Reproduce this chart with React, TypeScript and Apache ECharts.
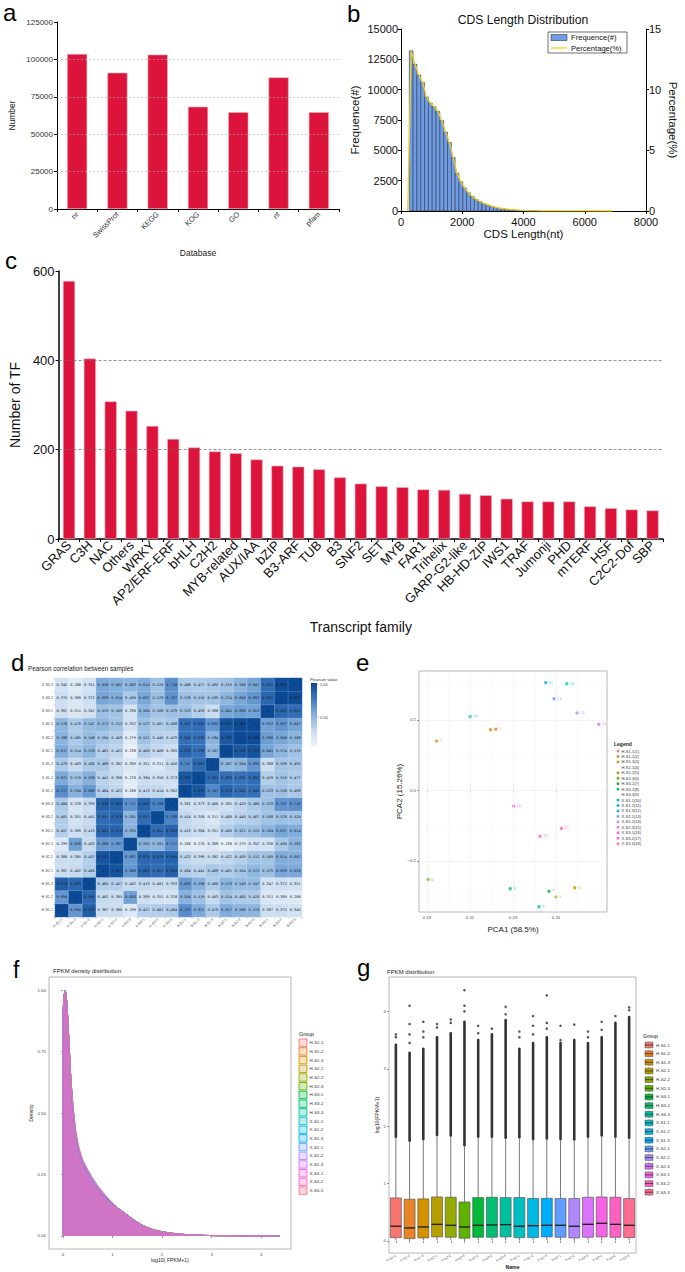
import React, { useEffect, useRef } from "react";
import * as echarts from "echarts";

const FONT = '"Liberation Sans", Arial, Helvetica, sans-serif';

// ---------- Panel a : annotation databases ----------
const dbNames = ["nr", "SwissProt", "KEGG", "KOG", "GO", "nt", "pfam"];
const dbCounts = [103600, 91100, 103200, 68400, 64700, 88000, 64700];
const dbGridValues = [25000, 50000, 75000, 100000];

// ---------- Panel b : CDS length distribution ----------
const cdsBinEdges = [270, 395, 520, 645, 770, 895, 1020, 1145, 1270, 1395, 1520, 1645, 1770, 1895, 2020, 2145, 2270, 2395, 2520, 2645, 2770, 2895, 3020, 3145, 3270, 3395, 3520, 3645, 3770, 3895, 4020, 4145, 4270, 4395, 4520];
const cdsCounts = [13200, 12100, 11200, 10600, 9400, 8900, 8600, 8200, 7450, 6500, 5650, 4400, 3100, 2400, 1900, 1500, 1200, 950, 780, 630, 500, 400, 310, 240, 190, 150, 115, 90, 70, 55, 40, 30, 22, 16];
const cdsPctX = [220, 332, 457, 582, 707, 832, 957, 1082, 1207, 1332, 1457, 1582, 1707, 1832, 1957, 2082, 2207, 2332, 2457, 2582, 2707, 2832, 2957, 3082, 3207, 3332, 3457, 3582, 3707, 3832, 3957, 4200, 4600, 5200, 6000, 6900];
const cdsPct = [0, 13.2, 12.1, 11.2, 10.6, 9.4, 8.9, 8.6, 8.2, 7.45, 6.5, 5.65, 4.4, 3.1, 2.4, 1.9, 1.5, 1.2, 0.95, 0.78, 0.63, 0.5, 0.4, 0.31, 0.24, 0.19, 0.15, 0.115, 0.09, 0.07, 0.055, 0.03, 0.015, 0.008, 0.004, 0];

// ---------- Panel c : transcription factor families ----------
const tfFamilies = ["GRAS", "C3H", "NAC", "Others", "WRKY", "AP2/ERF-ERF", "bHLH", "C2H2", "MYB-related", "AUX/IAA", "bZIP", "B3-ARF", "TUB", "B3", "SNF2", "SET", "MYB", "FAR1", "Trihelix", "GARP-G2-like", "HB-HD-ZIP", "IWS1", "TRAF", "Jumonji", "PHD", "mTERF", "HSF", "C2C2-Dof", "SBP"];
const tfCounts = [578, 404, 308, 287, 253, 224, 205, 196, 192, 178, 164, 162, 156, 138, 124, 118, 116, 111, 110, 101, 98, 90, 84, 84, 84, 73, 69, 66, 64];
const tfGridValues = [200, 400];

// ---------- Samples ----------
const samples = ["H-S1-1", "H-S1-2", "H-S1-3", "H-S2-1", "H-S2-2", "H-S2-3", "H-S3-1", "H-S3-2", "H-S3-3", "X-S1-1", "X-S1-2", "X-S1-3", "X-S2-1", "X-S2-2", "X-S2-3", "X-S3-1", "X-S3-2", "X-S3-3"];
const groupColors = ["#F8766D", "#E88526", "#D39200", "#B79F00", "#93AA00", "#5EB300", "#00BA38", "#00BF74", "#00C19F", "#00BFC4", "#00B9E3", "#00ADFA", "#619CFF", "#AE87FF", "#DB72FB", "#F564E3", "#FF61C3", "#FF6C91"];

// ---------- Panel d : Pearson correlation (row = sample, same order as samples) ----------
const corrHS11 = [1, 0.694, 0.913, 0.387, 0.380, 0.299, 0.457, 0.461, 0.484, 0.727, 0.621, 0.479, 0.617, 0.586, 0.576, 0.367, 0.375, 0.345];
const corrHS12 = [0.694, 1, 0.869, 0.402, 0.385, 0.656, 0.369, 0.351, 0.328, 0.594, 0.519, 0.403, 0.514, 0.485, 0.476, 0.311, 0.309, 0.288];
const corrHS13 = [0.913, 0.869, 1, 0.465, 0.457, 0.402, 0.419, 0.401, 0.393, 0.683, 0.598, 0.480, 0.578, 0.548, 0.547, 0.347, 0.372, 0.351];
const corrHS21 = [0.387, 0.402, 0.465, 1, 0.957, 0.688, 0.881, 0.851, 0.898, 0.464, 0.441, 0.489, 0.461, 0.504, 0.572, 0.529, 0.639, 0.628];
const corrHS22 = [0.380, 0.385, 0.457, 0.957, 1, 0.687, 0.879, 0.878, 0.895, 0.422, 0.396, 0.382, 0.422, 0.459, 0.512, 0.509, 0.614, 0.602];
const corrHS23 = [0.299, 0.656, 0.402, 0.688, 0.687, 1, 0.595, 0.581, 0.717, 0.268, 0.276, 0.309, 0.238, 0.279, 0.352, 0.336, 0.490, 0.583];
const corrHS31 = [0.457, 0.369, 0.419, 0.881, 0.879, 0.595, 1, 0.851, 0.882, 0.413, 0.384, 0.351, 0.460, 0.521, 0.522, 0.584, 0.637, 0.614];
const corrHS32 = [0.461, 0.351, 0.401, 0.851, 0.878, 0.581, 0.851, 1, 0.768, 0.414, 0.358, 0.311, 0.408, 0.440, 0.467, 0.508, 0.528, 0.520];
const corrHS33 = [0.484, 0.328, 0.393, 0.898, 0.895, 0.717, 0.882, 0.768, 1, 0.362, 0.373, 0.400, 0.365, 0.429, 0.488, 0.529, 0.707, 0.718];
const corrXS11 = [0.727, 0.594, 0.683, 0.464, 0.422, 0.268, 0.413, 0.414, 0.362, 1, 0.939, 0.747, 0.878, 0.845, 0.842, 0.523, 0.528, 0.488];
const corrXS12 = [0.621, 0.519, 0.598, 0.441, 0.396, 0.276, 0.384, 0.358, 0.373, 0.939, 1, 0.867, 0.838, 0.830, 0.852, 0.459, 0.510, 0.477];
const corrXS13 = [0.479, 0.403, 0.480, 0.489, 0.382, 0.309, 0.351, 0.311, 0.400, 0.747, 0.867, 1, 0.567, 0.584, 0.695, 0.388, 0.509, 0.495];
const corrXS21 = [0.617, 0.514, 0.578, 0.461, 0.422, 0.238, 0.460, 0.408, 0.365, 0.878, 0.838, 0.567, 1, 0.933, 0.953, 0.641, 0.574, 0.519];
const corrXS22 = [0.586, 0.485, 0.548, 0.504, 0.459, 0.279, 0.521, 0.440, 0.429, 0.845, 0.830, 0.584, 0.933, 1, 0.989, 0.666, 0.640, 0.588];
const corrXS23 = [0.576, 0.476, 0.547, 0.572, 0.512, 0.352, 0.522, 0.467, 0.488, 0.842, 0.852, 0.695, 0.953, 0.989, 1, 0.653, 0.697, 0.647];
const corrXS31 = [0.367, 0.311, 0.347, 0.529, 0.509, 0.336, 0.584, 0.508, 0.529, 0.523, 0.459, 0.388, 0.641, 0.666, 0.653, 1, 0.881, 0.851];
const corrXS32 = [0.375, 0.309, 0.372, 0.639, 0.614, 0.490, 0.637, 0.528, 0.707, 0.528, 0.510, 0.509, 0.574, 0.640, 0.697, 0.881, 1, 0.983];
const corrXS33 = [0.345, 0.288, 0.351, 0.628, 0.602, 0.583, 0.614, 0.520, 0.718, 0.488, 0.477, 0.495, 0.519, 0.588, 0.647, 0.851, 0.983, 1];
const corrRows = [corrHS11, corrHS12, corrHS13, corrHS21, corrHS22, corrHS23, corrHS31, corrHS32, corrHS33, corrXS11, corrXS12, corrXS13, corrXS21, corrXS22, corrXS23, corrXS31, corrXS32, corrXS33];

// ---------- Panel e : PCA ----------
const pca1 = [0.2221, 0.1945, 0.2196, 0.2587, 0.2500, 0.1905, 0.2467, 0.2287, 0.2421, 0.2550, 0.2452, 0.2101, 0.2491, 0.2598, 0.2699, 0.2303, 0.2525, 0.2426];
const pca2 = [0.174, 0.140, 0.172, -0.276, -0.302, -0.253, -0.286, -0.279, -0.330, 0.303, 0.306, 0.210, 0.260, 0.220, 0.188, -0.045, -0.108, -0.130];
const pcaXTicks = [0.19, 0.21, 0.23, 0.25];
const pcaXMinor = [0.20, 0.22, 0.24, 0.26];
const pcaYTicks = [-0.2, 0, 0.2];
const pcaYMinor = [-0.3, -0.1, 0.1, 0.3];

// ---------- Panel f : FPKM density ----------
const densX = [0, 0, 0.02, 0.04, 0.06, 0.08, 0.10, 0.13, 0.16, 0.20, 0.25, 0.30, 0.35, 0.40, 0.50, 0.60, 0.70, 0.80, 0.90, 1.00, 1.10, 1.20, 1.30, 1.40, 1.50, 1.60, 1.70, 1.80, 2.00, 2.20, 2.40, 2.60, 3.00, 3.50, 4.00, 4.37];
const densYMain = [0, 0.90, 0.97, 1.00, 0.99, 0.95, 0.88, 0.76, 0.64, 0.53, 0.43, 0.37, 0.33, 0.30, 0.26, 0.225, 0.195, 0.172, 0.15, 0.13, 0.115, 0.10, 0.085, 0.07, 0.056, 0.045, 0.035, 0.027, 0.017, 0.011, 0.007, 0.004, 0.0015, 0.0005, 0.0002, 0];
const densYXS3 = [0, 0.88, 0.96, 0.99, 0.98, 0.94, 0.87, 0.75, 0.64, 0.54, 0.44, 0.38, 0.34, 0.31, 0.27, 0.235, 0.205, 0.18, 0.155, 0.135, 0.115, 0.098, 0.082, 0.067, 0.054, 0.043, 0.034, 0.026, 0.016, 0.010, 0.006, 0.004, 0.0015, 0.0005, 0.0002, 0];
const densXTicks = [0, 1, 2, 3, 4];
const densYTicks = [0, 0.25, 0.5, 0.75, 1];

// ---------- Panel g : FPKM box plots ----------
const boxLow = [0.01, 0.0, 0.01, 0.01, 0.01, 0.0, 0.01, 0.01, 0.01, 0.01, 0.01, 0.01, 0.01, 0.0, 0.01, 0.01, 0.01, 0.01];
const boxQ1 = [0.058, 0.040, 0.052, 0.070, 0.064, 0.047, 0.064, 0.064, 0.070, 0.058, 0.058, 0.070, 0.064, 0.052, 0.064, 0.070, 0.064, 0.058];
const boxMed = [0.256, 0.227, 0.244, 0.290, 0.273, 0.244, 0.273, 0.279, 0.285, 0.256, 0.267, 0.273, 0.273, 0.256, 0.290, 0.308, 0.290, 0.273];
const boxQ3 = [0.750, 0.727, 0.733, 0.767, 0.762, 0.680, 0.756, 0.762, 0.756, 0.756, 0.740, 0.744, 0.740, 0.740, 0.762, 0.767, 0.762, 0.740];
const boxHigh = [1.80, 1.73, 1.76, 1.83, 1.82, 1.65, 1.80, 1.80, 1.78, 1.79, 1.76, 1.77, 1.76, 1.75, 1.80, 1.82, 1.80, 1.78];
const outlierDenseTop = [3.42, 3.28, 3.35, 3.55, 3.62, 3.82, 3.50, 3.60, 3.85, 3.35, 3.45, 3.55, 3.45, 3.50, 3.45, 3.55, 3.80, 3.90];
const outlierSparse = [[3.55, 3.60], [3.45, 3.60, 3.78, 4.10], [3.55, 3.65, 3.82], [3.72, 3.78], [3.80, 3.86], [4.00, 4.10, 4.37], [3.62, 3.75], [3.70], [3.95, 4.08], [3.55, 3.65], [3.60, 3.75, 3.92], [3.70, 3.80, 4.28], [3.50, 3.75], [3.77], [3.55, 3.65], [3.68, 3.82], [3.92], [4.02, 4.07]];
const boxYTicks = [0, 1, 2, 3, 4];

// ---------- helpers ----------
function txt(x: number, y: number, text: string, fontSize: number, extra: any = {}) {
  const align = extra.align || "left";
  const vAlign = extra.verticalAlign || "middle";
  return {
    type: "text",
    x,
    y,
    rotation: extra.rotation || 0,
    silent: true,
    style: {
      text,
      fontSize,
      fontFamily: FONT,
      fontWeight: extra.fontWeight || "normal",
      fill: extra.fill || "#000",
      align,
      textAlign: align,
      verticalAlign: vAlign,
      textVerticalAlign: vAlign,
    },
  };
}

function gridLineSeries(xi: number, yi: number, data: any[], lineStyle: any) {
  return {
    type: "line",
    xAxisIndex: xi,
    yAxisIndex: yi,
    data: [],
    silent: true,
    z: 1,
    markLine: {
      silent: true,
      symbol: "none",
      animation: false,
      label: { show: false },
      emphasis: { disabled: true },
      lineStyle,
      data,
    },
  };
}

function buildOption() {
  const series: any[] = [];

  // ---- a
  series.push(gridLineSeries(0, 0, dbGridValues.map((v) => ({ yAxis: v })), { type: [2, 2], color: "#b5b5b5", width: 0.6 }));
  series.push({
    type: "bar",
    xAxisIndex: 0,
    yAxisIndex: 0,
    data: dbCounts,
    barWidth: "50%",
    z: 2,
    itemStyle: { color: "#DC143C", borderColor: "#f3b0bd", borderWidth: 0.6 },
  });

  // ---- b
  series.push({
    type: "custom",
    xAxisIndex: 1,
    yAxisIndex: 1,
    data: cdsCounts.map((c, i) => [cdsBinEdges[i], cdsBinEdges[i + 1], c]),
    encode: { x: [0, 1], y: 2 },
    renderItem: (params: any, api: any) => {
      const p0 = api.coord([api.value(0), api.value(2)]);
      const p1 = api.coord([api.value(1), 0]);
      return {
        type: "rect",
        shape: { x: p0[0], y: p0[1], width: p1[0] - p0[0], height: p1[1] - p0[1] },
        style: { fill: "#6f9ce6", stroke: "#1c1c1c", lineWidth: 0.45 },
      };
    },
  });
  series.push({
    type: "line",
    xAxisIndex: 1,
    yAxisIndex: 2,
    data: cdsPctX.map((x, i) => [x, cdsPct[i]]),
    showSymbol: false,
    symbol: "none",
    z: 5,
    lineStyle: { color: "#f2cf1c", width: 1.3 },
  });

  // ---- c
  series.push(gridLineSeries(2, 3, tfGridValues.map((v) => ({ yAxis: v })), { type: [3, 2], color: "#666", width: 0.7 }));
  series.push({
    type: "bar",
    xAxisIndex: 2,
    yAxisIndex: 3,
    data: tfCounts,
    barWidth: "58%",
    z: 2,
    itemStyle: { color: "#DC143C", borderColor: "#f3b0bd", borderWidth: 0.6 },
  });

  // ---- d
  const heatData: any[] = [];
  corrRows.forEach((row, r) => row.forEach((v, c) => heatData.push([c, r, v])));
  const heatIndex = series.length;
  series.push({
    type: "heatmap",
    xAxisIndex: 3,
    yAxisIndex: 4,
    data: heatData,
    itemStyle: { borderColor: "rgba(255,255,255,0.35)", borderWidth: 0.4 },
    label: {
      show: true,
      fontSize: 3.6,
      fontFamily: '"DejaVu Sans Mono", monospace',
      color: "#1e1e1e",
      formatter: (p: any) => (p.value[2] === 1 ? "1" : p.value[2].toFixed(3)),
    },
  });

  // ---- e
  series.push(
    gridLineSeries(
      4,
      5,
      [...pcaXMinor.map((v) => ({ xAxis: v, lineStyle: { width: 0.3 } })), ...pcaYMinor.map((v) => ({ yAxis: v, lineStyle: { width: 0.3 } })), ...pcaXTicks.map((v) => ({ xAxis: v })), ...pcaYTicks.map((v) => ({ yAxis: v }))],
      { type: "solid", color: "#ececec", width: 0.6 }
    )
  );
  series.push({
    type: "scatter",
    xAxisIndex: 4,
    yAxisIndex: 5,
    symbolSize: 3.4,
    z: 3,
    data: pca1.map((x, i) => ({
      value: [x, pca2[i]],
      itemStyle: { color: groupColors[i] },
      label: { color: groupColors[i] },
    })),
    label: {
      show: true,
      position: "right",
      distance: 1.5,
      fontSize: 3.8,
      fontFamily: FONT,
      formatter: (p: any) => String(p.dataIndex + 1),
    },
  });

  // ---- f
  samples.forEach((s, i) => {
    const ys = i >= 15 ? densYXS3 : densYMain;
    series.push({
      type: "line",
      name: s,
      xAxisIndex: 5,
      yAxisIndex: 6,
      data: densX.map((x, k) => [x, ys[k]]),
      showSymbol: false,
      symbol: "none",
      z: 2,
      lineStyle: { color: groupColors[i], width: 0.5 },
      areaStyle: { color: groupColors[i], opacity: 0.3 },
    });
  });

  // ---- g
  series.push({
    type: "custom",
    xAxisIndex: 6,
    yAxisIndex: 7,
    z: 3,
    data: samples.map((s, i) => [i, outlierDenseTop[i], boxHigh[i]]),
    encode: { x: 0, y: [1, 2] },
    renderItem: (params: any, api: any) => {
      const a = api.coord([api.value(0), api.value(2)]);
      const b = api.coord([api.value(0), api.value(1)]);
      return {
        type: "line",
        shape: { x1: a[0], y1: a[1] - 1, x2: b[0], y2: b[1] },
        style: { stroke: "#333", lineWidth: 2.6, lineCap: "round" },
      };
    },
  });
  series.push({
    type: "scatter",
    xAxisIndex: 6,
    yAxisIndex: 7,
    symbolSize: 2.6,
    z: 3,
    itemStyle: { color: "#333" },
    data: outlierSparse.flatMap((arr, i) => arr.map((v) => [i, v])),
  });
  series.push({
    type: "custom",
    xAxisIndex: 6,
    yAxisIndex: 7,
    z: 4,
    data: samples.map((s, i) => [i, boxLow[i], boxQ1[i], boxMed[i], boxQ3[i], boxHigh[i]]),
    encode: { x: 0, y: [1, 2, 3, 4, 5] },
    renderItem: (params: any, api: any) => {
      const i = api.value(0);
      const color = groupColors[params.dataIndex];
      const w = api.size([1, 0])[0] * 0.8;
      const pLow = api.coord([i, api.value(1)]);
      const pQ1 = api.coord([i, api.value(2)]);
      const pMed = api.coord([i, api.value(3)]);
      const pQ3 = api.coord([i, api.value(4)]);
      const pHigh = api.coord([i, api.value(5)]);
      const x = pMed[0];
      return {
        type: "group",
        children: [
          { type: "line", shape: { x1: x, y1: pQ3[1], x2: x, y2: pHigh[1] }, style: { stroke: "#555", lineWidth: 0.8 } },
          { type: "line", shape: { x1: x, y1: pQ1[1], x2: x, y2: pLow[1] }, style: { stroke: "#555", lineWidth: 0.8 } },
          { type: "rect", shape: { x: x - w / 2, y: pQ3[1], width: w, height: pQ1[1] - pQ3[1] }, style: { fill: color, stroke: "#4a4a4a", lineWidth: 0.6 } },
          { type: "line", shape: { x1: x - w / 2, y1: pMed[1], x2: x + w / 2, y2: pMed[1] }, style: { stroke: "#1a1a1a", lineWidth: 1.3 } },
        ],
      };
    },
  });

  // ---------- axes ----------
  const blackAxis = { show: true, lineStyle: { color: "#000", width: 1 } };
  const ggTick = { show: true, length: 2, lineStyle: { color: "#333", width: 0.5 } };
  const ggLabel = { fontSize: 4.4, color: "#4d4d4d", fontFamily: FONT, margin: 3 };
  const plain = (v: number) => String(v);

  const xAxis: any[] = [
    // a
    {
      gridIndex: 0,
      type: "category",
      data: dbNames,
      axisLine: blackAxis,
      axisTick: { show: true, length: 3, lineStyle: { color: "#000" } },
      axisLabel: { rotate: 45, fontSize: 7.5, color: "#333", interval: 0, margin: 4 },
      name: "Database",
      nameLocation: "middle",
      nameGap: 39,
      nameTextStyle: { fontSize: 8.5, color: "#222" },
    },
    // b
    {
      gridIndex: 1,
      type: "value",
      min: 0,
      max: 8000,
      interval: 2000,
      axisLine: blackAxis,
      axisTick: { show: true, length: 3, lineStyle: { color: "#000" } },
      axisLabel: { fontSize: 11, color: "#111", margin: 5.5, formatter: plain },
      splitLine: { show: false },
      name: "CDS Length(nt)",
      nameLocation: "middle",
      nameGap: 17,
      nameTextStyle: { fontSize: 11.5, color: "#111" },
    },
    // c
    {
      gridIndex: 2,
      type: "category",
      data: tfFamilies,
      axisLine: { show: true, lineStyle: { color: "#000", width: 1.5 } },
      axisTick: { show: true, length: 3, lineStyle: { color: "#000" } },
      axisLabel: { rotate: 45, fontSize: 13, color: "#111", interval: 0, margin: 4 },
      name: "Transcript family",
      nameLocation: "middle",
      nameGap: 81,
      nameTextStyle: { fontSize: 14, color: "#111" },
    },
    // d
    {
      gridIndex: 3,
      type: "category",
      data: samples,
      axisLine: { show: false },
      axisTick: { show: true, length: 1.5, lineStyle: { color: "#555", width: 0.4 } },
      axisLabel: { rotate: 45, fontSize: 3.6, color: "#444", interval: 0, margin: 2 },
      splitLine: { show: false },
    },
    // e
    {
      gridIndex: 4,
      type: "value",
      min: 0.1863,
      max: 0.2737,
      axisLine: { show: false },
      splitLine: { show: false },
      axisTick: { ...ggTick, customValues: pcaXTicks },
      axisLabel: { ...ggLabel, customValues: pcaXTicks, formatter: (v: number) => v.toFixed(2) },
      name: "PCA1 (58.5%)",
      nameLocation: "middle",
      nameGap: 13,
      nameTextStyle: { fontSize: 8, color: "#222" },
    },
    // f
    {
      gridIndex: 5,
      type: "value",
      min: -0.28,
      max: 4.6,
      axisLine: { show: false },
      splitLine: { show: false },
      axisTick: { ...ggTick, customValues: densXTicks },
      axisLabel: { ...ggLabel, customValues: densXTicks, formatter: plain },
      name: "log10( FPKM+1)",
      nameLocation: "middle",
      nameGap: 8,
      nameTextStyle: { fontSize: 5.2, color: "#222" },
    },
    // g
    {
      gridIndex: 6,
      type: "category",
      data: samples,
      axisLine: { show: false },
      axisTick: { show: true, alignWithLabel: true, length: 2, lineStyle: { color: "#333", width: 0.5 } },
      axisLabel: { rotate: 30, fontSize: 3.4, color: "#4d4d4d", interval: 0, margin: 2.5 },
      name: "Name",
      nameLocation: "middle",
      nameGap: 7,
      nameTextStyle: { fontSize: 5.2, color: "#222", fontWeight: "bold" },
    },
  ];

  const yAxis: any[] = [
    // a
    {
      gridIndex: 0,
      type: "value",
      min: 0,
      max: 125000,
      interval: 25000,
      axisLine: blackAxis,
      axisTick: { show: true, length: 3, lineStyle: { color: "#000" } },
      axisLabel: { fontSize: 8, color: "#333", margin: 4, formatter: plain },
      splitLine: { show: false },
      name: "Number",
      nameLocation: "middle",
      nameGap: 41,
      nameTextStyle: { fontSize: 8.5, color: "#222" },
    },
    // b left
    {
      gridIndex: 1,
      type: "value",
      min: 0,
      max: 15000,
      interval: 2500,
      axisLine: blackAxis,
      axisTick: { show: true, length: 3, lineStyle: { color: "#000" } },
      axisLabel: { fontSize: 11, color: "#111", margin: 3, formatter: plain },
      splitLine: { show: false },
      name: "Frequence(#)",
      nameLocation: "middle",
      nameGap: 40,
      nameTextStyle: { fontSize: 11.5, color: "#111" },
    },
    // b right
    {
      gridIndex: 1,
      type: "value",
      position: "right",
      min: 0,
      max: 15,
      interval: 5,
      axisLine: blackAxis,
      axisTick: { show: true, length: 3, lineStyle: { color: "#000" } },
      axisLabel: { fontSize: 11, color: "#111", margin: 3, formatter: plain },
      splitLine: { show: false },
      name: "Percentage(%)",
      nameLocation: "middle",
      nameRotate: -90,
      nameGap: 21,
      nameTextStyle: { fontSize: 11.5, color: "#111" },
    },
    // c
    {
      gridIndex: 2,
      type: "value",
      min: 0,
      max: 600,
      interval: 200,
      axisLine: { show: true, lineStyle: { color: "#000", width: 1.5 } },
      axisTick: { show: true, length: 3, lineStyle: { color: "#000" } },
      axisLabel: { fontSize: 13, color: "#111", margin: 4 },
      splitLine: { show: false },
      name: "Number of TF",
      nameLocation: "middle",
      nameGap: 35,
      nameTextStyle: { fontSize: 14, color: "#111" },
    },
    // d
    {
      gridIndex: 3,
      type: "category",
      data: samples,
      axisLine: { show: false },
      axisTick: { show: true, length: 1.5, lineStyle: { color: "#555", width: 0.4 } },
      axisLabel: { fontSize: 3.6, color: "#444", interval: 0, margin: 2 },
      splitLine: { show: false },
    },
    // e
    {
      gridIndex: 4,
      type: "value",
      min: -0.345,
      max: 0.339,
      axisLine: { show: false },
      splitLine: { show: false },
      axisTick: { ...ggTick, customValues: pcaYTicks },
      axisLabel: {
        ...ggLabel,
        customValues: pcaYTicks,
        formatter: (v: number) => (Math.abs(v) < 1e-9 ? "0.0" : (v < 0 ? "\u2212" : "") + Math.abs(v).toFixed(1)),
      },
      name: "PCA2 (15.26%)",
      nameLocation: "middle",
      nameGap: 14,
      nameTextStyle: { fontSize: 8, color: "#222" },
    },
    // f
    {
      gridIndex: 5,
      type: "value",
      min: -0.053,
      max: 1.053,
      axisLine: { show: false },
      splitLine: { show: false },
      axisTick: { ...ggTick, customValues: densYTicks },
      axisLabel: { ...ggLabel, customValues: densYTicks, formatter: (v: number) => v.toFixed(2) },
      name: "Density",
      nameLocation: "middle",
      nameGap: 11,
      nameTextStyle: { fontSize: 5.2, color: "#222" },
    },
    // g
    {
      gridIndex: 6,
      type: "value",
      min: -0.21,
      max: 4.6,
      axisLine: { show: false },
      splitLine: { show: false },
      axisTick: { ...ggTick, customValues: boxYTicks },
      axisLabel: { ...ggLabel, customValues: boxYTicks, formatter: plain },
      name: "log10(FPKM+1)",
      nameLocation: "middle",
      nameGap: 8,
      nameTextStyle: { fontSize: 5.2, color: "#222" },
    },
  ];

  const ggGrid = { show: true, backgroundColor: "#fff", borderColor: "#a6a6a6", borderWidth: 0.8 };
  const grid = [
    { left: 57, top: 22, width: 282, height: 187 },
    { left: 401, top: 29, width: 245, height: 182 },
    { left: 57, top: 271, width: 606, height: 268 },
    { left: 55, top: 678, width: 247, height: 239 },
    { left: 419, top: 671, width: 188, height: 241, ...ggGrid },
    { left: 49, top: 977, width: 242, height: 272, ...ggGrid },
    { left: 389, top: 977, width: 247, height: 276, ...ggGrid },
  ];

  // ---------- graphics : panel letters, titles, legends ----------
  const g: any[] = [];
  g.push(txt(3, 12.5, "a", 24));
  g.push(txt(347, 13, "b", 24));
  g.push(txt(5, 260, "c", 24));
  g.push(txt(11, 662, "d", 24));
  g.push(txt(356, 662, "e", 24));
  g.push(txt(13, 970, "f", 23));
  g.push(txt(357, 967, "g", 24));

  g.push(txt(523, 20, "CDS Length Distribution", 12.2, { align: "center", fill: "#111" }));
  g.push(txt(28, 668, "Pearson correlation between samples", 6.3, { fill: "#222" }));
  g.push(txt(53, 971, "FPKM density distribution", 6, { fill: "#222" }));
  g.push(txt(387, 972, "FPKM distribution", 6, { fill: "#222" }));

  // b legend
  g.push({ type: "rect", shape: { x: 548, y: 32, width: 79, height: 21 }, style: { fill: "#fff", stroke: "#333", lineWidth: 0.7 }, silent: true });
  g.push({ type: "rect", shape: { x: 551, y: 34.5, width: 16, height: 6 }, style: { fill: "#6f9ce6", stroke: "#1c1c1c", lineWidth: 0.5 }, silent: true });
  g.push(txt(571, 37.5, "Frequence(#)", 7.6, { fill: "#111" }));
  g.push({ type: "line", shape: { x1: 551, y1: 48, x2: 567, y2: 48 }, style: { stroke: "#f2cf1c", lineWidth: 1.3 }, silent: true });
  g.push(txt(571, 48, "Percentage(%)", 7.6, { fill: "#111" }));

  // d legend (colour bar)
  g.push(txt(310, 679, "Pearson value", 4.3, { fill: "#333" }));
  g.push({
    type: "rect",
    shape: { x: 311, y: 683, width: 6, height: 64 },
    silent: true,
    style: {
      fill: new echarts.graphic.LinearGradient(0, 0, 0, 1, [
        { offset: 0, color: "#0b4995" },
        { offset: 0.25, color: "#3d79c1" },
        { offset: 0.5, color: "#86b1dd" },
        { offset: 0.75, color: "#c7dbf0" },
        { offset: 1, color: "#f1f6fc" },
      ]),
    },
  });
  g.push({ type: "line", shape: { x1: 317, y1: 684, x2: 319, y2: 684 }, style: { stroke: "#555", lineWidth: 0.4 }, silent: true });
  g.push({ type: "line", shape: { x1: 317, y1: 717, x2: 319, y2: 717 }, style: { stroke: "#555", lineWidth: 0.4 }, silent: true });
  g.push(txt(320, 684, "1.00", 4, { fill: "#444" }));
  g.push(txt(320, 717, "0.50", 4, { fill: "#444" }));

  // e legend
  g.push(txt(614, 744, "Legend", 5, { fontWeight: "bold", fill: "#222" }));
  samples.forEach((s, i) => {
    const y = 751 + i * 5.45;
    g.push({ type: "circle", shape: { cx: 618, cy: y, r: 1.4 }, style: { fill: groupColors[i] }, silent: true });
    g.push(txt(621.5, y, `${s}(${i + 1})`, 4, { fill: "#333" }));
  });

  // f legend
  g.push(txt(299, 1034, "Group", 5.4, { fill: "#222" }));
  samples.forEach((s, i) => {
    const y = 1042.7 + i * 8.7;
    g.push({
      type: "rect",
      shape: { x: 299, y: y - 3.7, width: 8, height: 7.4 },
      style: { fill: groupColors[i], opacity: 0.9, stroke: groupColors[i], lineWidth: 0.9 },
      silent: true,
    });
    g.push({ type: "rect", shape: { x: 299.5, y: y - 3.2, width: 7, height: 6.4 }, style: { fill: "rgba(255,255,255,0.7)" }, silent: true });
    g.push(txt(309.5, y, s, 4.4, { fill: "#333" }));
  });

  // g legend
  g.push(txt(643, 1036, "Group", 5.4, { fill: "#222" }));
  samples.forEach((s, i) => {
    const y = 1045 + i * 8.66;
    g.push({ type: "line", shape: { x1: 649, y1: y - 3.8, x2: 649, y2: y + 3.8 }, style: { stroke: "#555", lineWidth: 0.5 }, silent: true });
    g.push({ type: "rect", shape: { x: 645, y: y - 2.8, width: 8, height: 5.6 }, style: { fill: groupColors[i], stroke: "#444", lineWidth: 0.5 }, silent: true });
    g.push({ type: "line", shape: { x1: 645, y1: y, x2: 653, y2: y }, style: { stroke: "#222", lineWidth: 0.7 }, silent: true });
    g.push(txt(656, y, s, 4.4, { fill: "#333" }));
  });

  return {
    animation: false,
    backgroundColor: "#fff",
    textStyle: { fontFamily: FONT },
    grid,
    xAxis,
    yAxis,
    visualMap: [
      {
        type: "continuous",
        show: false,
        seriesIndex: heatIndex,
        min: 0.2,
        max: 1,
        inRange: { color: ["#f1f6fc", "#c7dbf0", "#86b1dd", "#3d79c1", "#0b4995"] },
      },
    ],
    series,
    graphic: { elements: g },
  };
}

export default function App() {
  const ref = useRef<HTMLDivElement>(null);
  useEffect(() => {
    const chart = echarts.init(ref.current as HTMLDivElement, null, { renderer: "svg" });
    chart.setOption(buildOption() as any);
    return () => chart.dispose();
  }, []);
  return (
    <div
      ref={ref}
      style={{ position: "absolute", left: 0, top: 0, width: 685, height: 1272, background: "#fff" }}
    />
  );
}
